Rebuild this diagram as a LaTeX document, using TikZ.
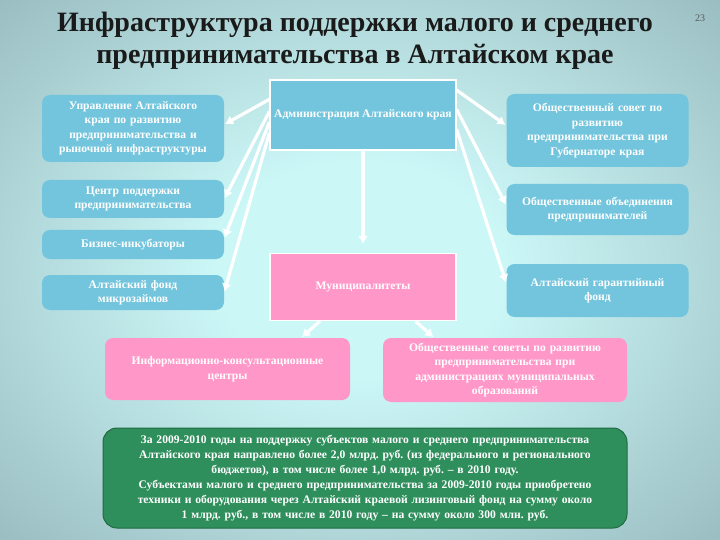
\documentclass[tikz,border=0pt]{standalone}
\usepackage{fontspec}
\setmainfont{Liberation Serif}
\usetikzlibrary{arrows.meta,calc}
\definecolor{bgin}{HTML}{CCF7F7}
\definecolor{bgout}{HTML}{7E9CA2}
\definecolor{bgcorner}{HTML}{6E8C93}
\definecolor{boxblue}{HTML}{72C5DC}
\definecolor{boxpink}{HTML}{FF97C8}
\definecolor{boxgreen}{HTML}{2F8F5C}
\definecolor{greenedge}{HTML}{1E6B42}
\definecolor{titlecol}{HTML}{1A1A1A}
\pgfdeclareradialshading{bgshade}{\pgfpoint{0bp}{0bp}}{color(0bp)=(bgin); color(10bp)=(bgin); color(50bp)=(bgout); color(72bp)=(bgcorner)}
\frenchspacing
\begin{document}
\begin{tikzpicture}[x=1pt,y=-1pt,
  boxtext/.style={text=white, font=\bfseries\fontsize{11.6}{14.5}\selectfont, align=center, inner sep=2pt},
  bluebox/.style={boxtext, fill=boxblue, rounded corners=8pt},
  pinkbox/.style={boxtext, fill=boxpink, rounded corners=8pt},
  squarebox/.style={boxtext, draw=white, line width=1.2pt},
  greenbox/.style={boxtext, fill=boxgreen, draw=greenedge, line width=1pt, rounded corners=14pt},
  arr/.style={draw=white, line width=3.2pt, -{Latex[length=8pt,width=10pt]}, shorten >=1pt}
]
\useasboundingbox (0,0) rectangle (720,540);
\shade[shading=bgshade] (0,0) rectangle (720,540);

% title
\node[font=\bfseries\fontsize{28}{32}\selectfont, text=titlecol, align=center] (title) at (355,41)
  {Инфраструктура поддержки малого и среднего\\предпринимательства в Алтайском крае};
\node[font=\fontsize{10}{12}\selectfont, text=gray!70!black] (pagenum) at (700,18) {23};

% boxes
\node[squarebox, fill=boxblue, minimum width=186pt, minimum height=70pt] (adm) at (363,115)
  {Администрация Алтайского края};
\node[bluebox, minimum width=182pt, minimum height=67pt, text width=178pt] (upr) at (133,128.5)
  {Управление Алтайского\\края по развитию\\предпринимательства и\\рыночной инфраструктуры};
\node[bluebox, minimum width=181pt, minimum height=73pt, text width=178pt] (sovet) at (597.5,130.5)
  {Общественный совет по\\развитию\\предпринимательства при\\Губернаторе края};
\node[bluebox, minimum width=182pt, minimum height=38pt, text width=178pt] (centr) at (133,199)
  {Центр поддержки\\предпринимательства};
\node[bluebox, minimum width=182pt, minimum height=29pt, text width=178pt] (biz) at (133,244.5)
  {Бизнес-инкубаторы};
\node[bluebox, minimum width=181pt, minimum height=51pt, text width=178pt] (obed) at (597.5,209.5)
  {Общественные объединения\\предпринимателей};
\node[bluebox, minimum width=182pt, minimum height=35pt, text width=178pt] (fond) at (133,292.5)
  {Алтайский фонд\\микрозаймов};
\node[squarebox, fill=boxpink, minimum width=186pt, minimum height=67pt] (mun) at (363,287)
  {Муниципалитеты};
\node[bluebox, minimum width=181pt, minimum height=53pt, text width=178pt] (garant) at (597.5,290.5)
  {Алтайский гарантийный\\фонд};
\node[pinkbox, minimum width=245pt, minimum height=62pt, text width=238pt] (info) at (227.5,369)
  {Информационно-консультационные\\центры};
\node[pinkbox, minimum width=244pt, minimum height=64pt, text width=238pt] (sov2) at (505,370)
  {Общественные советы по развитию\\предпринимательства при\\администрациях муниципальных\\образований};
\node[greenbox, minimum width=524pt, minimum height=100pt, text width=516pt, font=\bfseries\fontsize{11.6}{15}\selectfont] (green) at (365,478)
  {За 2009-2010 годы на поддержку субъектов малого и среднего предпринимательства\\
   Алтайского края направлено более 2,0 млрд. руб. (из федерального и регионального\\
   бюджетов), в том числе более 1,0 млрд. руб. – в 2010 году.\\
   Субъектами малого и среднего предпринимательства за 2009-2010 годы приобретено\\
   техники и оборудования через Алтайский краевой лизинговый фонд на сумму около\\
   1 млрд. руб., в том числе в 2010 году – на сумму около 300 млн. руб.};

% connector start points on the administration box
\coordinate (aL1) at ($(adm.north west)!0.28!(adm.south west)$);
\coordinate (aL2) at ($(adm.north west)!0.45!(adm.south west)$);
\coordinate (aL3) at ($(adm.north west)!0.6!(adm.south west)$);
\coordinate (aL4) at ($(adm.north west)!0.75!(adm.south west)$);
\coordinate (aR1) at ($(adm.north east)!0.15!(adm.south east)$);
\coordinate (aR2) at ($(adm.north east)!0.42!(adm.south east)$);
\coordinate (aR3) at ($(adm.north east)!0.7!(adm.south east)$);
\coordinate (mL) at ($(mun.south west)!0.27!(mun.south east)$);
\coordinate (mR) at ($(mun.south west)!0.78!(mun.south east)$);
\coordinate (iT) at ($(info.north west)!0.8!(info.north east)$);
\coordinate (sT) at ($(sov2.north west)!0.21!(sov2.north east)$);

\draw[arr] (aL1) -- ($(upr.east)+(0,-4)$);
\draw[arr] (aL2) -- (centr.east);
\draw[arr] (aL3) -- ($(biz.east)+(0,-6)$);
\draw[arr] (aL4) -- (fond.east);
\draw[arr] (aR1) -- ($(sovet.west)+(0,-5)$);
\draw[arr] (aR2) -- ($(obed.west)+(0,-4)$);
\draw[arr] (aR3) -- ($(garant.west)+(0,-7)$);
\draw[arr, shorten >=9pt] (adm.south) -- (mun.north);
\draw[arr] (mL) -- (iT);
\draw[arr] (mR) -- (sT);
\end{tikzpicture}
\end{document}
